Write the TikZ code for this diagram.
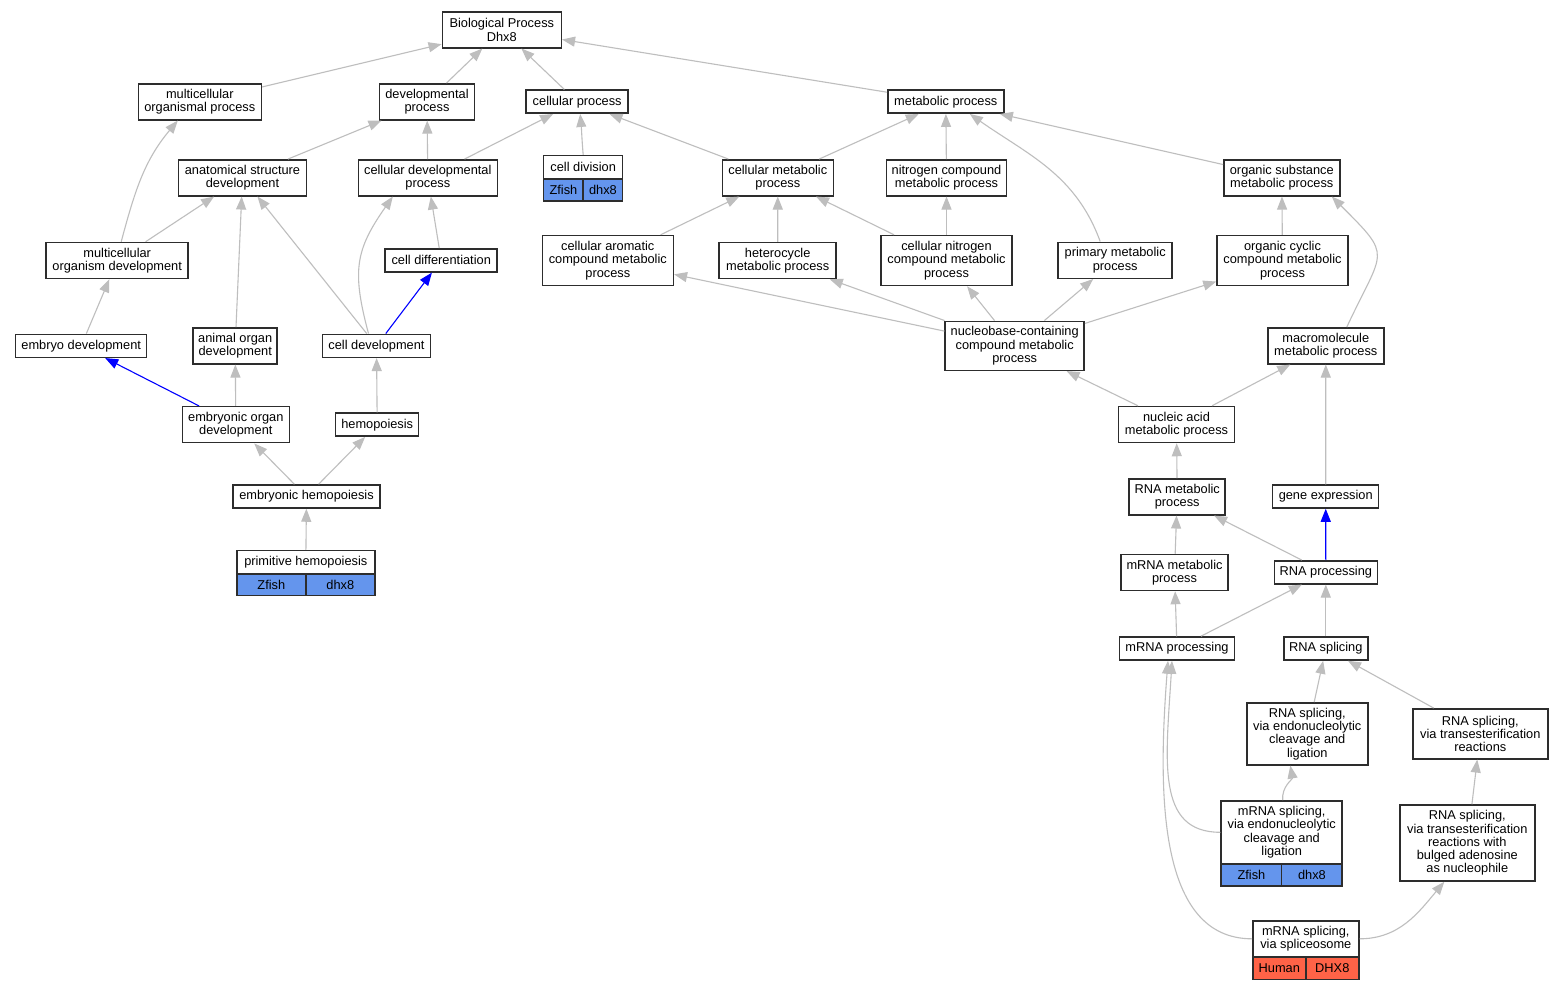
\documentclass[tikz,border=0pt]{standalone}
\usepackage{fontspec}
\setmainfont{Liberation Sans}
\usetikzlibrary{arrows.meta}
\definecolor{edgegray}{RGB}{190,190,190}
\definecolor{boxline}{RGB}{45,45,45}
\definecolor{zfishblue}{RGB}{100,149,237}
\definecolor{humanred}{RGB}{255,99,71}
\tikzset{
  term/.style = {draw=boxline, line width=1.5pt, fill=white, align=center,
    inner sep=0pt, font=\fontsize{12.8}{13.3}\selectfont},
  wh/.style 2 args = {minimum width=#1pt, minimum height=#2pt},
  zfish/.style = {term, fill=zfishblue, outer sep=0pt},
  human/.style = {term, fill=humanred, outer sep=0pt},
  isa/.style = {draw=edgegray, line width=1.1pt, -{Triangle[length=13pt,width=10pt]}},
  partof/.style = {isa, draw=blue}
}

\begin{document}
\begin{tikzpicture}[x=1pt,y=1pt]
  \useasboundingbox[fill=white] (0,0) rectangle (1563,-989);
  %
  % left branch
  \node[term, wh={119}{36}] (bp) at (501.8,-29.8) {Biological Process\\Dhx8};
  \node[term, wh={123}{36}] (mcop) at (199.8,-101.8) {multicellular\\organismal process};
  \node[term, wh={95}{36}] (devp) at (427,-101.8) {developmental\\process};
  \node[term, wh={102}{23}] (cellp) at (577.2,-101.7) {cellular process};
  \node[term, wh={116}{23}] (metp) at (945.8,-101.7) {metabolic process};
  \node[term, wh={128}{36}] (anat) at (242.5,-177.8) {anatomical structure\\development};
  \node[term, wh={139}{36}] (cdevp) at (427.8,-177.8) {cellular developmental\\process};
  \node[term, wh={79}{22.7}] (celldiv) at (583.2,-167) {cell division};
  \node[zfish, wh={39.5}{21.7}, anchor=north east] (celldivsp) at (celldiv.south) {Zfish};
  \node[zfish, wh={39.5}{21.7}, anchor=north west] (celldivgene) at (celldiv.south) {dhx8};
  \node[term, wh={142}{36}] (mcod) at (117.2,-260.5) {multicellular\\organism development};
  \node[term, wh={112}{23}] (celldiff) at (441.2,-260.3) {cell differentiation};
  \node[term, wh={131}{23}] (embdev) at (81.2,-345.8) {embryo development};
  \node[term, wh={84}{36}] (aorgan) at (235.2,-345.8) {animal organ\\development};
  \node[term, wh={108}{23}] (celldev) at (376.5,-345.8) {cell development};
  \node[term, wh={107}{36}] (eorgan) at (235.8,-424.7) {embryonic organ\\development};
  \node[term, wh={83}{23}] (hemo) at (377.2,-424.7) {hemopoiesis};
  \node[term, wh={147}{23}] (ehemo) at (306.5,-496.5) {embryonic hemopoiesis};
  \node[term, wh={138}{22.7}] (phemo) at (305.8,-562) {primitive hemopoiesis};
  \node[zfish, wh={69}{21.4}, anchor=north east] (phemosp) at (phemo.south) {Zfish};
  \node[zfish, wh={69}{21.4}, anchor=north west] (phemogene) at (phemo.south) {dhx8};
  %
  % metabolic branch
  \node[term, wh={111}{36}] (cmetp) at (777.8,-177.8) {cellular metabolic\\process};
  \node[term, wh={120}{36}] (nitro) at (946.5,-177.8) {nitrogen compound\\metabolic process};
  \node[term, wh={116}{36}] (orgsub) at (1281.8,-177.8) {organic substance\\metabolic process};
  \node[term, wh={131}{50}] (arom) at (607.8,-260.5) {cellular aromatic\\compound metabolic\\process};
  \node[term, wh={117}{36}] (hetero) at (777.7,-260.5) {heterocycle\\metabolic process};
  \node[term, wh={131}{50}] (cnitro) at (946.5,-260.5) {cellular nitrogen\\compound metabolic\\process};
  \node[term, wh={114}{36}] (primary) at (1115.2,-260.3) {primary metabolic\\process};
  \node[term, wh={131}{50}] (orgcyc) at (1282.5,-260.5) {organic cyclic\\compound metabolic\\process};
  \node[term, wh={139}{49}] (nucbase) at (1014.7,-345.8) {nucleobase-containing\\compound metabolic\\process};
  \node[term, wh={116}{36}] (macro) at (1325.8,-345.8) {macromolecule\\metabolic process};
  \node[term, wh={116}{36}] (nucacid) at (1176.5,-424.5) {nucleic acid\\metabolic process};
  \node[term, wh={96}{36}] (rnamet) at (1177.2,-496.8) {RNA metabolic\\process};
  \node[term, wh={106}{23}] (geneexp) at (1325.7,-496.5) {gene expression};
  \node[term, wh={107}{36}] (mrnamet) at (1174.5,-572.5) {mRNA metabolic\\process};
  \node[term, wh={103}{23}] (rnaproc) at (1325.8,-572.3) {RNA processing};
  \node[term, wh={115}{23}] (mrnaproc) at (1177,-648.5) {mRNA processing};
  \node[term, wh={84}{23}] (rnasplice) at (1325.8,-648.5) {RNA splicing};
  \node[term, wh={121}{62}] (rsendo) at (1307.3,-733.8) {RNA splicing,\\via endonucleolytic\\cleavage and\\ligation};
  \node[term, wh={135}{50}] (rstrans) at (1480.3,-733.8) {RNA splicing,\\via transesterification\\reactions};
  \node[term, wh={121}{62.7}] (msendo) at (1281.7,-832.3) {mRNA splicing,\\via endonucleolytic\\cleavage and\\ligation};
  \node[zfish, wh={60.5}{21.6}, anchor=north east] (msendosp) at (msendo.south) {Zfish};
  \node[zfish, wh={60.5}{21.6}, anchor=north west] (msendogene) at (msendo.south) {dhx8};
  \node[term, wh={135}{76}] (bulged) at (1467.3,-843) {RNA splicing,\\via transesterification\\reactions with\\bulged adenosine\\as nucleophile};
  \node[term, wh={106}{35.7}] (spliceo) at (1305.8,-938.8) {mRNA splicing,\\via spliceosome};
  \node[human, wh={53}{22.3}, anchor=north east] (spliceosp) at (spliceo.south) {Human};
  \node[human, wh={53}{22.3}, anchor=north west] (spliceogene) at (spliceo.south) {DHX8};
  %
  % is_a links, child/parent
  \foreach \child/\parent in {mcop/bp, devp/bp, cellp/bp, metp/bp, anat/devp,
      cdevp/devp, cdevp/cellp, cmetp/cellp, cmetp/metp, nitro/metp, orgsub/metp,
      mcod/anat, aorgan/anat, celldev/anat, celldiff/cdevp, embdev/mcod,
      eorgan/aorgan, hemo/celldev, ehemo/eorgan, ehemo/hemo, phemo/ehemo,
      arom/cmetp, hetero/cmetp, cnitro/cmetp, cnitro/nitro, orgcyc/orgsub,
      nucbase/arom, nucbase/hetero, nucbase/cnitro, nucbase/primary,
      nucbase/orgcyc, nucacid/nucbase, nucacid/macro, rnamet/nucacid,
      geneexp/macro, rnaproc/rnamet, mrnamet/rnamet, mrnaproc/mrnamet,
      mrnaproc/rnaproc, rnasplice/rnaproc, rsendo/rnasplice, rstrans/rnasplice,
      bulged/rstrans} {
    \draw[isa] (\child) -- (\parent);
  }
  % bent ones
  \draw[isa] (celldiv.north) to[out=95,in=-85] ([xshift=3pt]cellp.south);
  \draw[isa] ([xshift=4pt]mcod.north) to[out=75,in=-130] ([xshift=-22pt]mcop.south);
  \draw[isa] ([xshift=-8pt]celldev.north) to[out=105,in=-125,looseness=1.2] ([xshift=-35pt]cdevp.south);
  \draw[isa] ([xshift=-15pt]primary.north) to[out=110,in=-35] ([xshift=24pt]metp.south);
  \draw[isa] ([xshift=21pt]macro.north) to[out=65,in=-45,looseness=1.7] ([xshift=50pt]orgsub.south);
  \draw[isa] ([xshift=1pt]msendo.north) to[out=95,in=-80] ([xshift=-17pt]rsendo.south);
  \draw[isa] (msendo.west) .. controls +(-65,0) and +(-6,-100) .. ([xshift=-5pt]mrnaproc.south);
  \draw[isa] (spliceo.west) .. controls +(-95,0) and +(-10,-130) .. ([xshift=-9pt]mrnaproc.south);
  \draw[isa] (spliceo.east) to[out=0,in=-130] ([xshift=-23pt]bulged.south);
  % part_of links
  \draw[partof] (eorgan) -- (embdev);
  \draw[partof] (celldev) -- (celldiff);
  \draw[partof] (rnaproc) -- (geneexp);
\end{tikzpicture}
\end{document}
